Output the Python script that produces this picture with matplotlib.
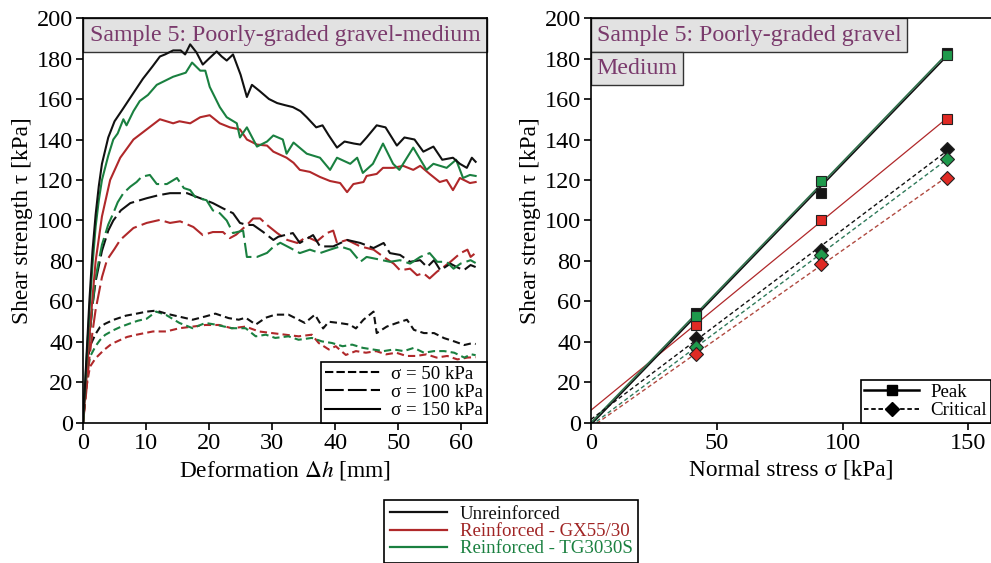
import matplotlib.pyplot as plt
import matplotlib.patches as mpatches
from matplotlib.lines import Line2D
import numpy as np

plt.rcParams['font.family'] = ['Liberation Serif', 'DejaVu Serif']
plt.rcParams['mathtext.fontset'] = 'stix'

# ---- left panel: shear curves (deformation in mm, tau in kPa) ----
unr150_x = [0, 0.5, 1, 1.5, 2, 2.5, 3, 4, 5, 6.3, 8, 9.5, 11, 12.2, 13, 14.3, 15.5, 16.2, 17, 18, 19, 20, 21.2, 22,
            22.8, 23.8, 25, 26, 26.8, 28, 29.5, 30.8, 32, 33.3, 34.5, 35.5, 37, 38, 39, 40.3, 41.5, 43, 44, 45, 46.6,
            48, 49, 49.8, 51, 52.6, 54, 55.6, 57, 58.7, 59.8, 60.9, 61.7, 62.3]
unr150_y = [0, 30, 60, 85, 103, 117, 128, 141, 149, 155, 163, 170, 176, 181, 182, 184, 184, 182, 187, 183, 177, 180,
            183.5, 181, 179, 182, 172, 161, 167, 164, 160, 158, 157, 156, 154, 151, 146, 147, 142, 136, 139, 138,
            137.5, 141, 147, 146, 141, 137, 141, 140, 134, 136.5, 130, 131, 128, 126, 131, 129]

tg150_x = [0, 0.5, 1, 1.5, 2, 2.5, 3, 4, 4.8, 5.5, 6.4, 6.9, 8, 9, 10.3, 11.7, 13, 14.3, 15.3, 16.3, 17.3, 18.6, 19.4,
           20.1, 21.7, 22.8, 24.4, 24.9, 26, 27.6, 29.2, 30.2, 31.7, 32.3, 33.4, 35.5, 37.6, 39.2, 40.3, 42.4, 43.5,
           44.4, 46, 47.6, 49.2, 50.2, 52.4, 54.5, 55.6, 57.7, 59.2, 60.3, 61.4, 62.3]
tg150_y = [0, 28, 55, 78, 97, 110, 120, 132, 140, 143, 150, 147, 154, 159, 162, 167, 169, 171, 172, 173, 178, 174, 174,
           166, 156, 151, 148, 141, 146, 136.5, 139, 142, 140, 133, 138.5, 133, 131, 125, 131, 128, 131, 123.5, 128,
           138, 128, 125, 136, 125, 128, 126, 130, 121, 122.5, 122]

gx150_x = [0, 0.5, 1, 1.5, 2, 3, 4.3, 5.9, 8, 10.1, 12.2, 14.3, 15.3, 17, 18.6, 20.1, 21.7, 23.3, 24.9, 26, 27.6, 29.2,
           30.2, 32.3, 33.4, 34.4, 36, 37.6, 39.2, 40.8, 41.9, 42.9, 44.5, 45, 46.6, 47.6, 49.2, 50.8, 52.4, 53.5, 55,
           56.6, 57.7, 58.7, 59.8, 61.4, 62.3]
gx150_y = [0, 20, 42, 62, 80, 102, 120, 131, 140, 145, 150, 148, 149, 148, 151, 152, 148, 146, 145, 140, 137.5, 137,
           134, 131, 128.5, 125, 124, 121.5, 119.5, 118.5, 114, 118, 119, 122, 123, 126, 126, 127, 125, 127, 123, 119,
           120, 115, 121, 118.5, 119]

unr100_x = [0, 0.5, 1, 1.5, 2, 3, 4, 4.8, 6, 7.5, 10.1, 12, 13.8, 16.5, 18.6, 20.6, 22.2, 23.8, 24.9, 26, 27, 28.6,
            30.2, 31, 33.3, 34.4, 36.5, 37.6, 39.7, 41.9, 44, 46.1, 47.7, 48.7, 50.3, 51.9, 53.5, 54.6, 55.7, 56.7,
            58.3, 59.3, 60.4, 61.5, 62.3]
unr100_y = [0, 22, 42, 58, 70, 85, 95, 100, 105, 108.6, 111, 112.5, 113.5, 113.5, 111, 108.6, 106, 103.6, 98.8, 97.8,
            97.8, 94.3, 90.4, 92, 93.8, 88.9, 92.8, 87.2, 87.2, 90.4, 88.9, 86.4, 88.9, 83.9, 83, 79.6, 80.4, 77, 80.4,
            75.4, 78.7, 77, 75.4, 78, 77]

tg100_x = [0, 0.5, 1, 1.5, 2, 3, 4, 4.8, 5.5, 6.4, 7.5, 8.5, 9.3, 10.6, 11.7, 13.3, 14.9, 16, 17, 17.8, 19.6, 20.6,
           21.7, 22.8, 23.8, 25.4, 26, 27.6, 29.2, 30.2, 31.3, 32.9, 34.4, 36, 37.6, 39.2, 40.8, 42.4, 44, 45, 46.6,
           48.7, 50.3, 51.9, 53.5, 55, 56.2, 57.7, 58.8, 59.9, 61.5, 62.3]
tg100_y = [0, 22, 42, 58, 72, 88, 98, 103.6, 109, 113.5, 116.7, 119, 121.6, 122.5, 118, 118, 121, 116, 115, 111.6,
           110, 105, 103.6, 100, 93.8, 95, 82, 82, 84, 87, 89, 86.4, 83.9, 85.6, 83.9, 85.6, 87.2, 85.6, 79.6, 82, 81,
           79.6, 80.4, 78.7, 82, 83.9, 79.6, 79.6, 76.2, 78.7, 80.4, 79]

gx100_x = [0, 0.5, 1, 1.5, 2, 3, 3.8, 5, 5.9, 7, 8, 10.1, 12.2, 13.8, 15.4, 17.5, 19, 20.6, 22.2, 23.3, 24.3, 26, 27,
           28.1, 29.2, 30.8, 32.4, 34, 35.5, 37.1, 38.7, 39.7, 40.3, 41.9, 44, 46.1, 47.7, 49.3, 50.3, 51.9, 53, 54,
           55, 56.2, 57.2, 58.3, 59.9, 61, 61.5, 62.3]
gx100_y = [0, 15, 32, 45, 56, 72, 80.5, 86, 90.4, 93.5, 96.3, 98.8, 100.3, 98.8, 99.6, 96.8, 92.8, 94.3, 94.3, 91.3,
           93, 97.8, 101, 101, 97.8, 93.8, 90.4, 88.9, 92, 89.7, 93.8, 95, 88.9, 90.4, 87.2, 85.6, 82, 78.7, 75.4, 76.2,
           73, 74, 71.4, 74.8, 77, 79.6, 83.9, 85.6, 82, 84]

unr50_x = [0, 0.3, 0.6, 1.1, 2, 2.7, 3.5, 4.8, 6.8, 8.5, 10.1, 11.6, 13.2, 15.3, 17.4, 19.4, 21, 23.1, 24.7, 25.8,
           27.4, 29, 30.5, 32.6, 34.2, 35.2, 36.8, 38.1, 39, 40.6, 42.3, 43.3, 44.5, 46.1, 46.6, 48.2, 49.8, 51.4,
           52.5, 54.1, 55.7, 57.3, 58.9, 60.5, 61.6, 62.3]
unr50_y = [0, 15, 28, 38, 44, 47.4, 49, 50.9, 53, 54, 55, 55.5, 54, 52.5, 51, 52.6, 54, 51.8, 51, 52, 48.6, 52, 53.5,
           53.5, 51, 49.4, 53.5, 46.7, 50, 49.4, 48.6, 46.7, 51, 55, 44.4, 47.6, 49.4, 51, 46, 44.4, 44.4, 41.9, 40.3,
           38.5, 39.3, 39]

tg50_x = [0, 0.3, 0.6, 1.1, 2, 2.7, 3.5, 4.8, 6, 7.4, 8.7, 10.1, 11.6, 13.2, 15.3, 17.4, 19.4, 21, 23.6, 25.8, 27.4,
          29, 30.5, 32.6, 34.2, 36.3, 37.9, 39.5, 41.2, 42.7, 44.4, 46, 47.7, 49.3, 50.9, 52.5, 54.1, 55.7, 57.3,
          58.9, 60.5, 61.6, 62.3]
tg50_y = [0, 12, 22, 32.7, 38, 41, 43.5, 45.8, 47.5, 49.1, 50.5, 51.5, 55, 53.3, 49.4, 46.8, 49.4, 48.6, 46.8, 46.8,
          42.8, 43.6, 42, 42.8, 41.1, 42, 40.3, 39.5, 37.9, 38.7, 37.1, 36.3, 35.5, 36.3, 35.5, 37.1, 34.7, 35.5,
          35.5, 34.7, 32.3, 33.9, 33.5]

gx50_x = [0, 0.3, 0.6, 1.1, 2, 3.3, 4.5, 5.9, 7, 8.5, 11.1, 13.2, 15.3, 17.4, 19.4, 21.6, 23.6, 25.8, 27.9, 30, 32.1,
          34.2, 36.3, 37.4, 39, 40.1, 41.7, 43.3, 44.9, 46.5, 48.1, 49.7, 51.3, 52.9, 54.5, 56.1, 57.8, 59.4, 61, 62.3]
gx50_y = [0, 10, 19, 27.8, 32, 36, 39, 41, 42.5, 43.6, 45.2, 45.2, 46.8, 47.6, 48.4, 48.4, 46.8, 47.6, 45.2, 44.4,
          43.6, 42.8, 43.6, 39.5, 36.3, 37.9, 33.6, 35.5, 34.7, 35.5, 33.9, 34.7, 33.1, 33.1, 33.9, 32.3, 33.1, 31.4,
          32.3, 32.5]

# ---- right panel: failure envelopes ----
sigma = [41.6, 91.5, 141.4]
peak_unr = [54.5, 113.4, 182.9]
peak_gx = [48.4, 100.2, 150.1]
peak_tg = [53.0, 119.5, 181.5]
crit_unr = [41.8, 85.4, 135.3]
crit_gx = [33.9, 78.5, 121.2]
crit_tg = [37.7, 83.0, 130.4]

c_unr = '#111111'
c_gx = '#b0282a'
c_tg = '#1a8040'
m_unr = '#151515'
m_gx = '#e02a24'
m_tg = '#1f9a4c'
box_col = '#e2e2e2'
title_col = '#7a3a6c'

fs_tick = 17.5
fs_lab = 16.8
fs_title = 17.2
fs_leg = 13.6

fig = plt.figure(figsize=(9.91, 5.63), dpi=100)
ax1 = fig.add_axes([0.0838, 0.2487, 0.4076, 0.7193])
ax2 = fig.add_axes([0.5964, 0.2487, 0.4036, 0.7193])

ls50 = (0, (3.5, 2))
ls100 = (0, (9, 2.5))
for (x, y, c) in [(gx50_x, gx50_y, c_gx), (tg50_x, tg50_y, c_tg), (unr50_x, unr50_y, c_unr)]:
    ax1.plot(x, y, color=c, lw=1.5, ls=ls50)
for (x, y, c) in [(gx100_x, gx100_y, c_gx), (unr100_x, unr100_y, c_unr), (tg100_x, tg100_y, c_tg)]:
    ax1.plot(x, y, color=c, lw=1.5, ls=ls100)
for (x, y, c) in [(gx150_x, gx150_y, c_gx), (tg150_x, tg150_y, c_tg), (unr150_x, unr150_y, c_unr)]:
    ax1.plot(x, y, color=c, lw=1.5)

ax1.set_xlim(0, 64.1)
ax1.set_ylim(0, 200)
ax1.set_xticks(np.arange(0, 61, 10))
ax1.set_yticks(np.arange(0, 201, 20))
ax1.set_xlabel(r'Deformation $\Delta h$ [mm]', fontsize=fs_lab, labelpad=4)
ax1.set_ylabel('Shear strength τ [kPa]', fontsize=fs_lab, labelpad=3)

ax1.add_patch(mpatches.Rectangle((0, 0.916), 1, 0.084, transform=ax1.transAxes, facecolor=box_col,
                                 edgecolor='#333333', lw=1.0, zorder=1, clip_on=False))
ax1.text(0.5, 0.957, 'Sample 5: Poorly-graded gravel-medium', transform=ax1.transAxes, ha='center',
         va='center', fontsize=fs_title, color=title_col, zorder=2)

h_left = [Line2D([], [], color='k', lw=1.5, ls=(0, (4, 1.5))),
          Line2D([], [], color='k', lw=1.5, ls=(0, (9, 2))),
          Line2D([], [], color='k', lw=1.5)]
leg1 = ax1.legend(h_left, ['σ = 50 kPa', 'σ = 100 kPa', 'σ = 150 kPa'], loc='lower right', fontsize=fs_leg,
                  frameon=True, fancybox=False, edgecolor='k', framealpha=1, borderaxespad=0,
                  handlelength=2.9, labelspacing=0.05, borderpad=0.2, handletextpad=0.6)
leg1.get_frame().set_linewidth(1.2)

# right panel
xs = np.array([0, sigma[-1]])
for pts, lc, mc in [(peak_gx, c_gx, m_gx), (peak_unr, c_unr, m_unr), (peak_tg, '#2e6e4a', m_tg)]:
    k, b = np.polyfit(sigma, pts, 1)
    ax2.plot(xs, k * xs + b, color=lc, lw=1.2 if lc != c_gx else 0.9, zorder=2)
for pts, lc in [(crit_gx, '#b04a40'), (crit_tg, '#2e7a5a'), (crit_unr, c_unr)]:
    k, b = np.polyfit(sigma, pts, 1)
    ax2.plot(xs, k * xs + b, color=lc, lw=1.0, ls=(0, (3, 2)), zorder=2)
for pts, mc in [(peak_unr, m_unr), (peak_gx, m_gx), (peak_tg, m_tg)]:
    ax2.plot(sigma, pts, ls='none', marker='s', ms=7.5, mfc=mc, mec='#222222', mew=0.8, zorder=3)
for pts, mc in [(crit_unr, m_unr), (crit_tg, m_tg), (crit_gx, m_gx)]:
    ax2.plot(sigma, pts, ls='none', marker='D', ms=7, mfc=mc, mec='#222222', mew=0.8, zorder=3)

ax2.set_xlim(0, 159)
ax2.set_ylim(0, 200)
ax2.set_xticks([0, 50, 100, 150])
ax2.set_yticks(np.arange(0, 201, 20))
ax2.set_xlabel('Normal stress σ [kPa]', fontsize=fs_lab, labelpad=4)
ax2.set_ylabel('Shear strength τ [kPa]', fontsize=fs_lab, labelpad=3)
ax2.spines['right'].set_visible(False)

ax2.add_patch(mpatches.Rectangle((0, 0.916), 0.79, 0.084, transform=ax2.transAxes, facecolor=box_col,
                                 edgecolor='#333333', lw=1.0, zorder=1))
ax2.text(0.395, 0.957, 'Sample 5: Poorly-graded gravel', transform=ax2.transAxes, ha='center', va='center',
         fontsize=fs_title, color=title_col, zorder=2)
ax2.add_patch(mpatches.Rectangle((0, 0.835), 0.23, 0.081, transform=ax2.transAxes, facecolor=box_col,
                                 edgecolor='#333333', lw=1.0, zorder=1))
ax2.text(0.115, 0.875, 'Medium', transform=ax2.transAxes, ha='center', va='center', fontsize=fs_title,
         color=title_col, zorder=2)

h_right = [Line2D([], [], color='k', lw=1.8, marker='s', ms=7.5),
           Line2D([], [], color='k', lw=1.3, ls=(0, (2.5, 1.5)), marker='D', ms=7)]
leg2 = ax2.legend(h_right, ['Peak', 'Critical'], loc='lower right', fontsize=fs_leg, frameon=True,
                  fancybox=False, edgecolor='k', framealpha=1, borderaxespad=0, handlelength=2.9,
                  labelspacing=0.05, borderpad=0.2, handletextpad=0.6)
leg2.get_frame().set_linewidth(1.2)

for ax in (ax1, ax2):
    ax.tick_params(direction='out', length=5, width=1.2, labelsize=fs_tick, pad=2)
    for s in ax.spines.values():
        s.set_linewidth(1.2)

h_bot = [Line2D([], [], color=c_unr, lw=1.6), Line2D([], [], color=c_gx, lw=1.6),
         Line2D([], [], color=c_tg, lw=1.6)]
leg3 = fig.legend(h_bot, ['Unreinforced', 'Reinforced - GX55/30', 'Reinforced - TG3030S'],
                  loc='lower center', bbox_to_anchor=(0.516, -0.017), fontsize=fs_leg, frameon=True,
                  fancybox=False, edgecolor='k', framealpha=1, handlelength=3.0, labelspacing=0.0,
                  borderpad=0.3, handletextpad=0.7)
leg3.get_frame().set_linewidth(1.2)
for t, c in zip(leg3.get_texts(), [c_unr, '#a02424', c_tg]):
    t.set_color(c)

fig.savefig('out.png', dpi=100)
